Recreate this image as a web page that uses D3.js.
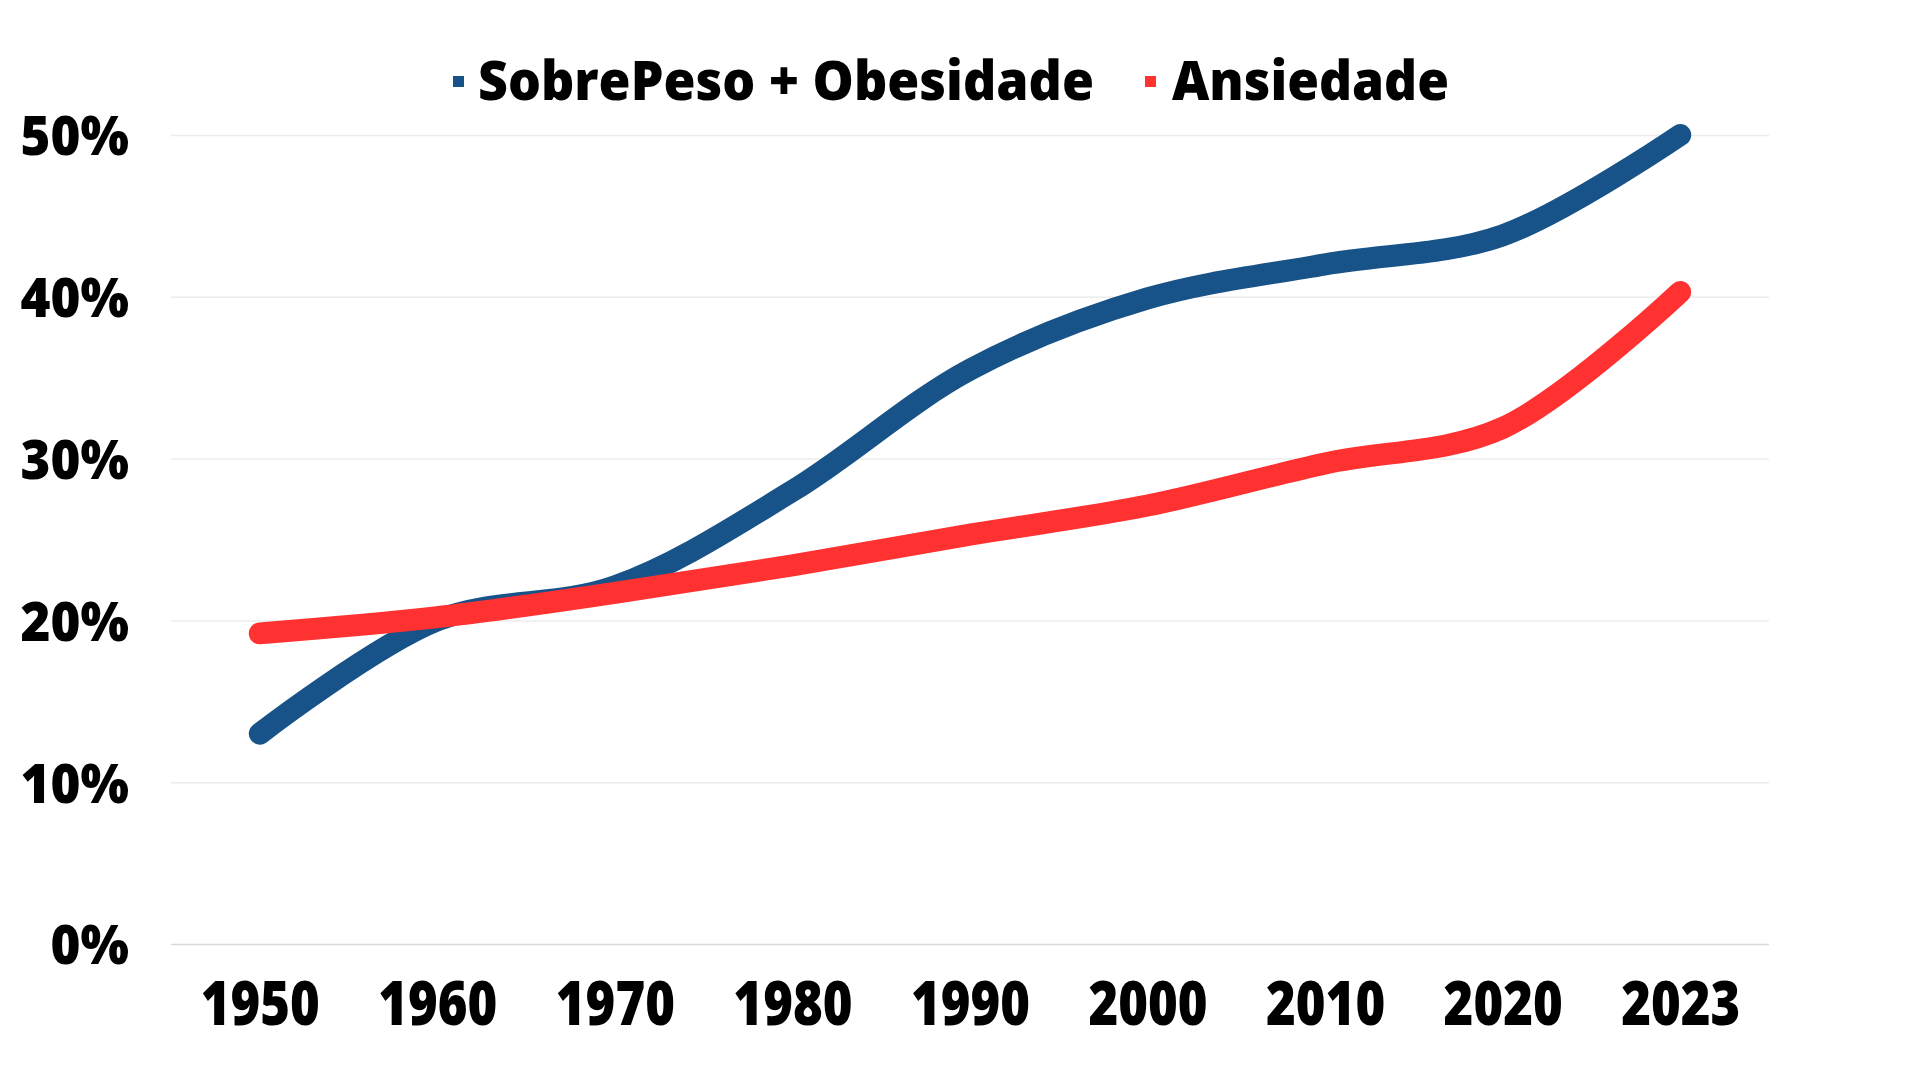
<!DOCTYPE html>
<html>
<head>
<meta charset="utf-8">
<script src="https://cdn.jsdelivr.net/npm/d3@7"></script>
<style>
  html, body { margin: 0; padding: 0; background: #ffffff; }
  svg { display: block; }
  text { font-family: "Open Sans", sans-serif; font-weight: 800; fill: #000; }
</style>
</head>
<body>
<svg id="chart" width="1920" height="1080"></svg>
<script>
// ---- data ----
const categories = ["1950", "1960", "1970", "1980", "1990", "2000", "2010", "2020", "2023"];
const sobrepeso = [13.0, 20.0, 22.1, 28.0, 35.5, 39.9, 42.0, 43.8, 50.0];
const ansiedade = [19.2, 20.2, 21.7, 23.4, 25.3, 27.1, 29.7, 31.9, 40.3];
const seriesNames = ["SobrePeso + Obesidade", "Ansiedade"];
const yTicks = [0, 10, 20, 30, 40, 50];

// ---- layout ----
const colors = ["#175388", "#FF3131"];
const plotL = 171, plotR = 1769, plotT = 135, plotB = 944;

const svg = d3.select("#chart");

const x = d3.scalePoint().domain(categories).range([plotL, plotR]).padding(0.5);
const y = d3.scaleLinear().domain([0, 50]).range([plotB, plotT]);

// gridlines
const grid = svg.append("g")
  .attr("transform", `translate(${plotL},0)`)
  .call(d3.axisLeft(y).tickValues(yTicks).tickSize(-(plotR - plotL)).tickFormat(""));
grid.select(".domain").remove();
grid.selectAll(".tick line")
  .attr("stroke", d => d === 0 ? "#d9d9d9" : "#ececec")
  .attr("stroke-width", 1.5);

// y axis labels
const yAxis = svg.append("g")
  .attr("transform", `translate(129,0)`)
  .call(d3.axisLeft(y).tickValues(yTicks).tickSize(0).tickPadding(0).tickFormat(d => d + "%"));
yAxis.select(".domain").remove();
yAxis.selectAll("text")
  .attr("x", 0)
  .attr("font-size", 55)
  .attr("font-family", "'Open Sans', sans-serif")
  .attr("font-weight", 800)
  .attr("fill", "#000")
  .attr("dy", "0.36em")
  .attr("transform", "scale(0.93,1)");

// x axis labels
const xAxis = svg.append("g")
  .attr("transform", `translate(0,${plotB})`)
  .call(d3.axisBottom(x).tickSize(0).tickPadding(0));
xAxis.select(".domain").remove();
xAxis.selectAll("text")
  .attr("font-size", 62)
  .attr("font-family", "'Open Sans', sans-serif")
  .attr("font-weight", 800)
  .attr("fill", "#000")
  .attr("y", 81)
  .attr("dy", 0)
  .attr("transform", "scale(0.82,1)");

// lines
const line = d3.line()
  .x((d, i) => x(categories[i]))
  .y(d => y(d))
  .curve(d3.curveCatmullRom.alpha(0.5));

[sobrepeso, ansiedade].forEach((vals, k) => {
  svg.append("path")
    .datum(vals)
    .attr("d", line)
    .attr("fill", "none")
    .attr("stroke", colors[k])
    .attr("stroke-width", 22)
    .attr("stroke-linecap", "round")
    .attr("stroke-linejoin", "round");
});

// legend
const legendPos = [{sq: 453, tx: 478, w: 616}, {sq: 1145, tx: 1172, w: 277}];
seriesNames.forEach((name, k) => {
  const g = svg.append("g");
  g.append("rect")
    .attr("x", legendPos[k].sq).attr("y", 76)
    .attr("width", 11).attr("height", 11)
    .attr("fill", colors[k]);
  g.append("text")
    .attr("x", legendPos[k].tx)
    .attr("y", 100)
    .attr("font-size", 55)
    .attr("textLength", legendPos[k].w)
    .attr("lengthAdjust", "spacingAndGlyphs")
    .text(name);
});
</script>
</body>
</html>
